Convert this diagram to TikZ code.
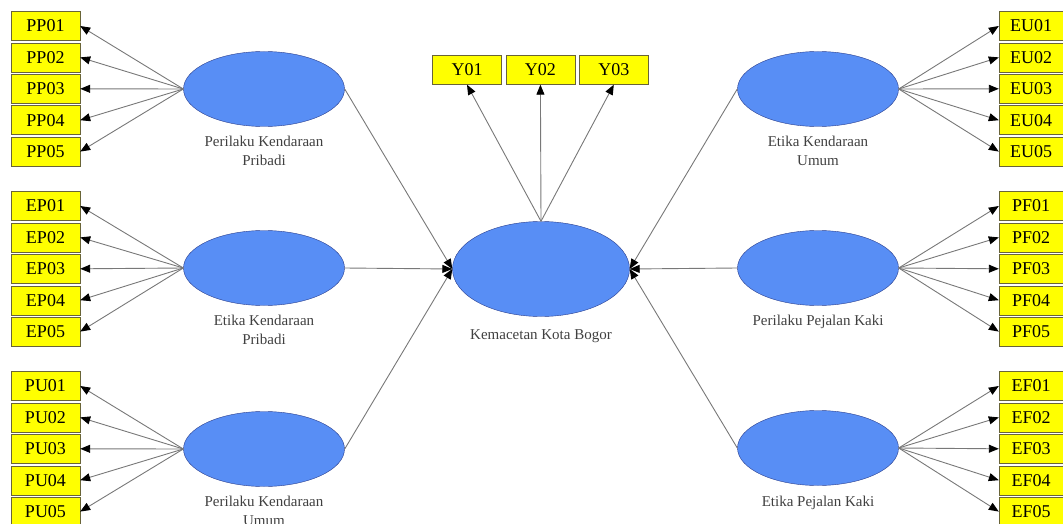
\documentclass[tikz,border=0pt]{standalone}
\usepackage{fontspec}
\setmainfont{Liberation Serif}
\usetikzlibrary{shapes,arrows.meta,positioning}
\definecolor{boxyellow}{RGB}{255,255,0}
\definecolor{boxline}{RGB}{105,100,55}
\definecolor{latentblue}{RGB}{88,142,245}
\definecolor{latentline}{RGB}{40,60,140}
\definecolor{pathgray}{RGB}{120,120,120}
\tikzset{
indicator/.style={
	  draw=boxline, fill=boxyellow, rectangle, minimum width=69pt,
	    minimum height=29pt, inner sep=0pt, font=\fontsize{18}{20}\selectfont},
latent/.style={
	  draw=latentline, fill=latentblue, ellipse, minimum width=161pt,
	    minimum height=75pt, inner sep=0pt},
latentlabel/.style={align=center, text=black!75, font=\fontsize{15}{19}\selectfont},
loading/.style={draw=pathgray, line width=0.9pt,
	  -{Triangle[length=10pt,width=8pt,color=black]}}
}

\begin{document}
\begin{tikzpicture}[x=1pt, y=-1pt]
	\useasboundingbox (0,0) rectangle (1063,524);
	% latent variables
	\node[latent] (PP) at (264,89) {};
	\node[latent] (EP) at (264,268) {};
	\node[latent] (PU) at (264,449) {};
	\node[latent] (EU) at (818,89) {};
	\node[latent] (PF) at (818,268) {};
	\node[latent] (EF) at (818,448) {};
	\node[latent, minimum width=177pt, minimum height=95pt] (K) at (541,269) {};
	\node[latentlabel, below=6pt of PP] {Perilaku Kendaraan\\Pribadi};
	\node[latentlabel, below=6pt of EP] {Etika Kendaraan\\Pribadi};
	\node[latentlabel, below=6pt of PU] {Perilaku Kendaraan\\Umum};
	\node[latentlabel, below=6pt of EU] {Etika Kendaraan\\Umum};
	\node[latentlabel, below=6pt of PF] {Perilaku Pejalan Kaki};
	\node[latentlabel, below=7pt of EF] {Etika Pejalan Kaki};
	\node[latentlabel, below=9pt of K] {Kemacetan Kota Bogor};

	% indicators, left
	\node[indicator] (PP01) at (45.5,26) {PP01};
	\node[indicator, below=2pt of PP01] (PP02) {PP02};
	\node[indicator, below=2pt of PP02] (PP03) {PP03};
	\node[indicator, below=2pt of PP03] (PP04) {PP04};
	\node[indicator, below=2pt of PP04] (PP05) {PP05};
	\node[indicator] (EP01) at (45.5,206) {EP01};
	\node[indicator, below=2pt of EP01] (EP02) {EP02};
	\node[indicator, below=2pt of EP02] (EP03) {EP03};
	\node[indicator, below=2pt of EP03] (EP04) {EP04};
	\node[indicator, below=2pt of EP04] (EP05) {EP05};
	\node[indicator] (PU01) at (45.5,386) {PU01};
	\node[indicator, below=2pt of PU01] (PU02) {PU02};
	\node[indicator, below=2pt of PU02] (PU03) {PU03};
	\node[indicator, below=2pt of PU03] (PU04) {PU04};
	\node[indicator, below=2pt of PU04] (PU05) {PU05};

	% indicators, right
	\node[indicator, minimum width=64pt] (EU01) at (1031,26) {EU01};
	\node[indicator, minimum width=64pt, below=2pt of EU01] (EU02) {EU02};
	\node[indicator, minimum width=64pt, below=2pt of EU02] (EU03) {EU03};
	\node[indicator, minimum width=64pt, below=2pt of EU03] (EU04) {EU04};
	\node[indicator, minimum width=64pt, below=2pt of EU04] (EU05) {EU05};
	\node[indicator, minimum width=64pt] (PF01) at (1031,206) {PF01};
	\node[indicator, minimum width=64pt, below=2pt of PF01] (PF02) {PF02};
	\node[indicator, minimum width=64pt, below=2pt of PF02] (PF03) {PF03};
	\node[indicator, minimum width=64pt, below=2pt of PF03] (PF04) {PF04};
	\node[indicator, minimum width=64pt, below=2pt of PF04] (PF05) {PF05};
	\node[indicator, minimum width=64pt] (EF01) at (1031,386) {EF01};
	\node[indicator, minimum width=64pt, below=2pt of EF01] (EF02) {EF02};
	\node[indicator, minimum width=64pt, below=2pt of EF02] (EF03) {EF03};
	\node[indicator, minimum width=64pt, below=2pt of EF03] (EF04) {EF04};
	\node[indicator, minimum width=64pt, below=2pt of EF04] (EF05) {EF05};

	% indicators, top
	\node[indicator] (Y01) at (467,70) {Y01};
	\node[indicator, right=4pt of Y01] (Y02) {Y02};
	\node[indicator, right=4pt of Y02] (Y03) {Y03};

	% loadings
	\draw[loading] (PP.west) -- (PP01.east);
	\draw[loading] (PP.west) -- (PP02.east);
	\draw[loading] (PP.west) -- (PP03.east);
	\draw[loading] (PP.west) -- (PP04.east);
	\draw[loading] (PP.west) -- (PP05.east);
	\draw[loading] (EP.west) -- (EP01.east);
	\draw[loading] (EP.west) -- (EP02.east);
	\draw[loading] (EP.west) -- (EP03.east);
	\draw[loading] (EP.west) -- (EP04.east);
	\draw[loading] (EP.west) -- (EP05.east);
	\draw[loading] (PU.west) -- (PU01.east);
	\draw[loading] (PU.west) -- (PU02.east);
	\draw[loading] (PU.west) -- (PU03.east);
	\draw[loading] (PU.west) -- (PU04.east);
	\draw[loading] (PU.west) -- (PU05.east);
	\draw[loading] (EU.east) -- (EU01.west);
	\draw[loading] (EU.east) -- (EU02.west);
	\draw[loading] (EU.east) -- (EU03.west);
	\draw[loading] (EU.east) -- (EU04.west);
	\draw[loading] (EU.east) -- (EU05.west);
	\draw[loading] (PF.east) -- (PF01.west);
	\draw[loading] (PF.east) -- (PF02.west);
	\draw[loading] (PF.east) -- (PF03.west);
	\draw[loading] (PF.east) -- (PF04.west);
	\draw[loading] (PF.east) -- (PF05.west);
	\draw[loading] (EF.east) -- (EF01.west);
	\draw[loading] (EF.east) -- (EF02.west);
	\draw[loading] (EF.east) -- (EF03.west);
	\draw[loading] (EF.east) -- (EF04.west);
	\draw[loading] (EF.east) -- (EF05.west);
	\draw[loading] (K.north) -- (Y01.south);
	\draw[loading] (K.north) -- (Y02.south);
	\draw[loading] (K.north) -- (Y03.south);

	% structural paths
	\draw[loading] (PP.east) -- (K.west);
	\draw[loading] (EP.east) -- (K.west);
	\draw[loading] (PU.east) -- (K.west);
	\draw[loading] (EU.west) -- (K.east);
	\draw[loading] (PF.west) -- (K.east);
	\draw[loading] (EF.west) -- (K.east);
\end{tikzpicture}
\end{document}
